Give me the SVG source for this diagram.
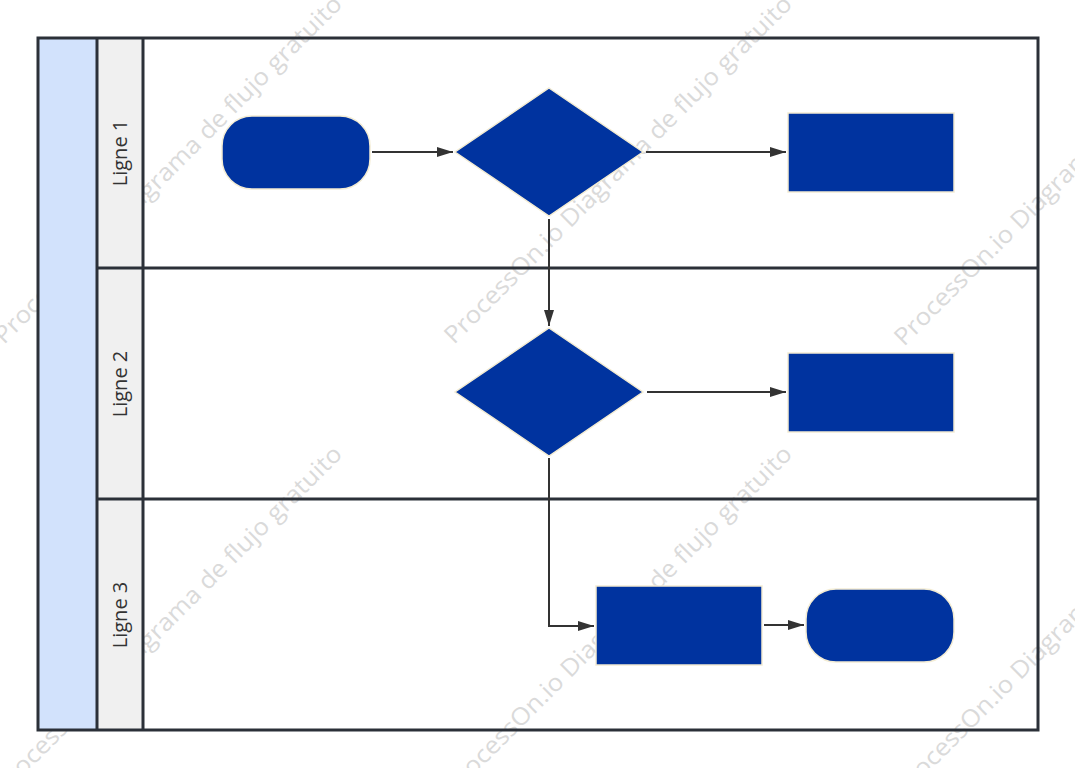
<svg xmlns="http://www.w3.org/2000/svg" width="1075" height="768" viewBox="0 0 1075 768">
<defs>
<style>
.pool{fill:#d2e2fc;}
.head{fill:#f0f0f0;}
.border{fill:none;stroke:#2b3038;stroke-width:3;}
.node{fill:#00339f;stroke:#f3ecd3;stroke-width:1.5;}
.conn{fill:none;stroke:#333333;stroke-width:2;}
.lbl{font-family:"Open Sans","Noto Sans",sans-serif;font-size:20px;fill:#333333;text-anchor:middle;}
.wm{font-family:"Open Sans","Noto Sans",sans-serif;font-size:24px;fill:#dadada;}
</style>
<marker id="arr" viewBox="0 0 16 10" refX="16" refY="5" markerWidth="16" markerHeight="10" markerUnits="userSpaceOnUse" orient="auto">
<path d="M0,0 L16,5 L0,10 Z" fill="#333333"/>
</marker>
</defs>
<rect x="0" y="0" width="1075" height="768" fill="#ffffff"/>
<g id="watermark">
<text class="wm" textLength="480" lengthAdjust="spacingAndGlyphs" transform="translate(4,345) rotate(-45)">ProcessOn.io Diagrama de flujo gratuito</text>
<text class="wm" textLength="480" lengthAdjust="spacingAndGlyphs" transform="translate(454,345) rotate(-45)">ProcessOn.io Diagrama de flujo gratuito</text>
<text class="wm" textLength="480" lengthAdjust="spacingAndGlyphs" transform="translate(904,347) rotate(-45)">ProcessOn.io Diagrama de flujo gratuito</text>
<text class="wm" textLength="480" lengthAdjust="spacingAndGlyphs" transform="translate(4,795) rotate(-45)">ProcessOn.io Diagrama de flujo gratuito</text>
<text class="wm" textLength="480" lengthAdjust="spacingAndGlyphs" transform="translate(454,795) rotate(-45)">ProcessOn.io Diagrama de flujo gratuito</text>
<text class="wm" textLength="480" lengthAdjust="spacingAndGlyphs" transform="translate(904,797) rotate(-45)">ProcessOn.io Diagrama de flujo gratuito</text>
</g>
<g id="pool">
<rect class="pool" x="38" y="38" width="59" height="692"/>
<rect class="head" x="97" y="38" width="46" height="692"/>
</g>
<g id="lanes">
<rect class="border" x="38" y="38" width="1000" height="692"/>
<line class="border" x1="97" y1="38" x2="97" y2="730"/>
<line class="border" x1="143" y1="38" x2="143" y2="730"/>
<line class="border" x1="97" y1="268" x2="1038" y2="268"/>
<line class="border" x1="97" y1="499" x2="1038" y2="499"/>
<g id="lane1"><text class="lbl" transform="translate(127,153) rotate(-90)">Ligne 1</text></g>
<g id="lane2"><text class="lbl" transform="translate(127,384) rotate(-90)">Ligne 2</text></g>
<g id="lane3"><text class="lbl" transform="translate(127,615) rotate(-90)">Ligne 3</text></g>
</g>
<g id="connectors">
<line class="conn" x1="372" y1="152" x2="453" y2="152" marker-end="url(#arr)"/>
<line class="conn" x1="646" y1="152" x2="786" y2="152" marker-end="url(#arr)"/>
<line class="conn" x1="549" y1="219" x2="549" y2="326" marker-end="url(#arr)"/>
<line class="conn" x1="647" y1="392" x2="786" y2="392" marker-end="url(#arr)"/>
<polyline class="conn" points="549,458 549,626 594,626" marker-end="url(#arr)"/>
<line class="conn" x1="764" y1="625" x2="804" y2="625" marker-end="url(#arr)"/>
</g>
<g id="start"><rect class="node" x="222" y="116" width="148" height="73" rx="30" ry="30"/></g>
<g id="decision1"><polygon class="node" points="549,88 643,152 549,216 455,152"/></g>
<g id="process1"><rect class="node" x="788" y="113" width="166" height="79"/></g>
<g id="decision2"><polygon class="node" points="549,328 643,392 549,456 455,392"/></g>
<g id="process2"><rect class="node" x="788" y="353" width="166" height="79"/></g>
<g id="process3"><rect class="node" x="596" y="586" width="166" height="79"/></g>
<g id="end"><rect class="node" x="806" y="589" width="148" height="73" rx="30" ry="30"/></g>
</svg>
